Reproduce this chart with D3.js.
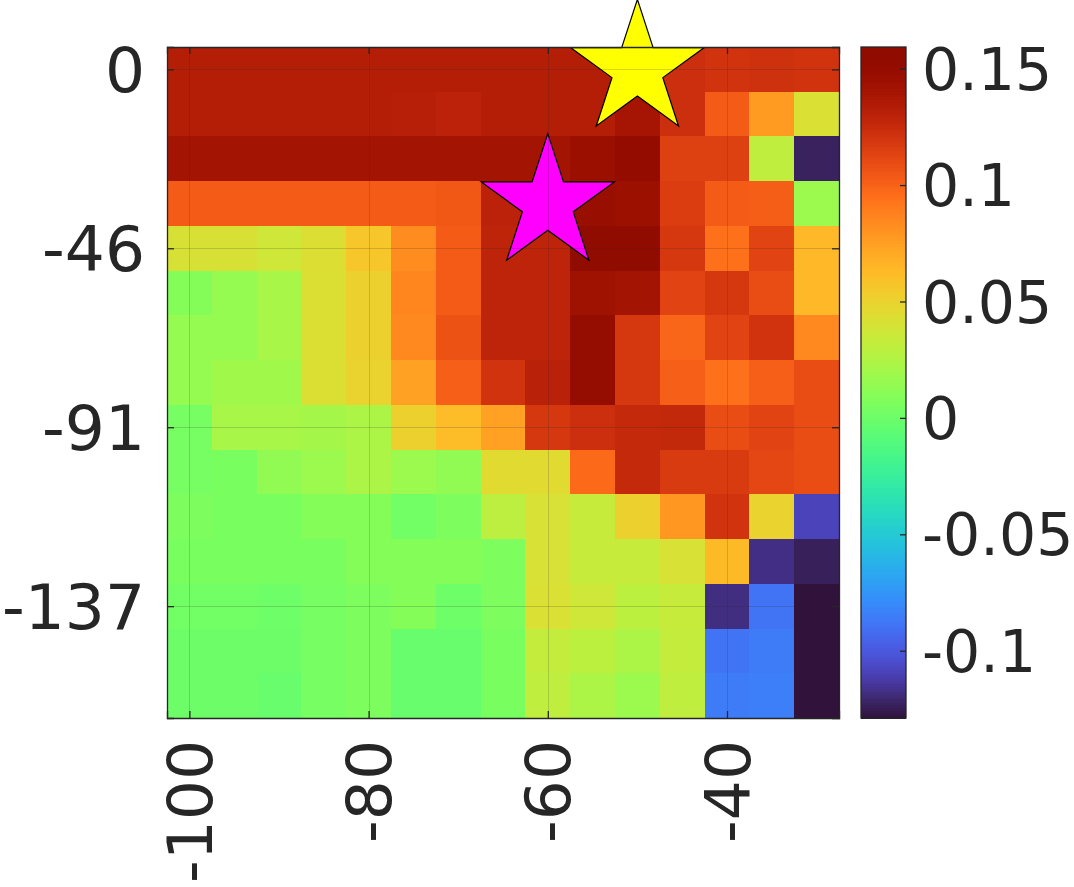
<!DOCTYPE html>
<html>
<head>
<meta charset="utf-8">
<script src="https://cdn.jsdelivr.net/npm/d3@7"></script>
<style>
  html, body { margin: 0; padding: 0; background: #ffffff; }
  svg { display: block; }
  text { font-family: "DejaVu Sans", sans-serif; fill: #262626; }
</style>
</head>
<body>
<svg id="chart" width="1074" height="887"></svg>
<script>
// ---------------- data ----------------
const xCategories = [-100, -95, -90, -85, -80, -75, -70, -65, -60, -55, -50, -45, -40, -35, -30];
const yCategories = [0, -11.43, -22.86, -34.29, -45.71, -57.14, -68.57, -80, -91.43, -102.86, -114.29, -125.71, -137.14, -148.57, -160];

const values = [
  [0.133, 0.133, 0.133, 0.133, 0.133, 0.133, 0.133, 0.133, 0.133, 0.133, 0.133, 0.123, 0.121, 0.122, 0.121],
  [0.133, 0.133, 0.133, 0.133, 0.133, 0.132, 0.130, 0.133, 0.133, 0.133, 0.140, 0.123, 0.103, 0.077, 0.042],
  [0.1406, 0.1406, 0.1406, 0.1406, 0.1406, 0.1406, 0.1406, 0.1406, 0.1406, 0.146, 0.151, 0.1146, 0.1146, 0.031, -0.123],
  [0.103, 0.103, 0.103, 0.103, 0.103, 0.103, 0.1045, 0.130, 0.130, 0.148, 0.145, 0.116, 0.103, 0.102, 0.018],
  [0.041, 0.041, 0.037, 0.043, 0.057, 0.083, 0.103, 0.129, 0.129, 0.159, 0.159, 0.119, 0.0945, 0.113, 0.064],
  [0.0094, 0.0152, 0.0224, 0.0426, 0.0512, 0.0858, 0.103, 0.129, 0.129, 0.1434, 0.1406, 0.1132, 0.119, 0.109, 0.064],
  [0.0152, 0.0152, 0.0224, 0.0426, 0.0512, 0.0844, 0.107, 0.129, 0.129, 0.1507, 0.119, 0.0988, 0.1132, 0.121, 0.0844],
  [0.0152, 0.0195, 0.0195, 0.0426, 0.050, 0.0743, 0.1017, 0.121, 0.131, 0.1507, 0.119, 0.1017, 0.0945, 0.1017, 0.109],
  [0.0037, 0.0224, 0.0224, 0.021, 0.0238, 0.0512, 0.0613, 0.0743, 0.119, 0.123, 0.126, 0.127, 0.109, 0.113, 0.109],
  [0.0037, 0.0051, 0.0138, 0.0181, 0.0238, 0.0181, 0.0138, 0.0455, 0.0455, 0.097, 0.126, 0.117, 0.117, 0.1117, 0.109],
  [0.0066, 0.0051, 0.0051, 0.0094, 0.0094, 0.0022, 0.0066, 0.030, 0.0411, 0.0339, 0.0512, 0.0786, 0.121, 0.0498, -0.1087],
  [0.0051, 0.0051, 0.0051, 0.0051, 0.0094, 0.0094, 0.0094, 0.0066, 0.0411, 0.0339, 0.0339, 0.0411, 0.0628, -0.1174, -0.1237],
  [0.0022, 0.0022, 0.0008, 0.0037, 0.0066, 0.0094, 0.0008, 0.0066, 0.042, 0.0368, 0.0296, 0.0339, -0.1179, -0.0886, -0.1289],
  [0.0002, 0.0002, 0.0002, 0.0037, 0.0066, -0.0015, -0.0015, 0.005, 0.0325, 0.0296, 0.0238, 0.0325, -0.0886, -0.0857, -0.1289],
  [0.0002, 0.0002, -0.0015, 0.0037, 0.0066, -0.0015, -0.0015, 0.005, 0.0311, 0.0238, 0.0181, 0.0311, -0.0857, -0.0842, -0.1289]
];

const xTickValues = [-100, -80, -60, -40];
const xTickLabels = ["-100", "-80", "-60", "-40"];
const yTickValues = [0, -45.71, -91.43, -137.14];
const yTickLabels = ["0", "-46", "-91", "-137"];
const colorLimits = [-0.1289, 0.1593];
const cbarTickValues = [0.15, 0.1, 0.05, 0, -0.05, -0.1];
const cbarTickLabels = ["0.15", "0.1", "0.05", "0", "-0.05", "-0.1"];

const starX = [-50, -60];
const starY = [0, -34.29];
const starColors = ["#ffff00", "#ff00ff"];

// ---------------- layout ----------------
const plot = { left: 167, right: 839, top: 47, bottom: 718 };
const cbar = { left: 861, right: 906 };
const fontSize = 63;
const cbarFontSize = 58.5;
const tickLen = 7;
const axisColor = "#262626";

const svg = d3.select("#chart");

const xStep = xCategories[1] - xCategories[0];
const yStep = yCategories[0] - yCategories[1];

const x = d3.scaleLinear()
  .domain([xCategories[0] - xStep / 2, xCategories[xCategories.length - 1] + xStep / 2])
  .range([plot.left, plot.right]);
const y = d3.scaleLinear()
  .domain([yCategories[0] + yStep / 2, yCategories[yCategories.length - 1] - yStep / 2])
  .range([plot.top, plot.bottom]);

// turbo colormap (d3 polynomial), with the low end matched to the classic turbo purple
const lowEnd = d3.interpolateRgb("#30123b", d3.interpolateTurbo(0.03));
const turbo = t => (t < 0.03 ? lowEnd(t / 0.03) : d3.interpolateTurbo(t));
const color = d3.scaleSequential(turbo).domain(colorLimits).clamp(true);

// ---------------- heatmap cells ----------------
const cells = [];
values.forEach((row, ri) => row.forEach((v, ci) => cells.push({ xc: xCategories[ci], yc: yCategories[ri], v })));

svg.append("g")
  .attr("shape-rendering", "crispEdges")
  .selectAll("rect")
  .data(cells)
  .join("rect")
  .attr("x", d => x(d.xc - xStep / 2))
  .attr("y", d => y(d.yc + yStep / 2))
  .attr("width", d => x(d.xc + xStep / 2) - x(d.xc - xStep / 2) + 0.5)
  .attr("height", d => y(d.yc - yStep / 2) - y(d.yc + yStep / 2) + 0.5)
  .attr("fill", d => color(d.v));

// ---------------- stars ----------------
const starRadius = 70;
const starPath = d3.symbol().type(d3.symbolStar).size(starRadius * starRadius / 0.8908130915292852);
svg.append("g")
  .selectAll("path")
  .data(starX.map((sx, i) => ({ sx, sy: starY[i], c: starColors[i] })))
  .join("path")
  .attr("d", starPath)
  .attr("transform", d => `translate(${x(d.sx)},${y(d.sy)})`)
  .attr("fill", d => d.c)
  .attr("stroke", "#000000")
  .attr("stroke-width", 1.2)
  .attr("stroke-linejoin", "miter");

// ---------------- grid ----------------
const grid = svg.append("g").attr("stroke", axisColor).attr("stroke-opacity", 0.18).attr("stroke-width", 1);
grid.selectAll("line.gx").data(xTickValues).join("line")
  .attr("x1", d => Math.round(x(d)) + 0.5).attr("x2", d => Math.round(x(d)) + 0.5)
  .attr("y1", plot.top).attr("y2", plot.bottom);
grid.selectAll("line.gy").data(yTickValues).join("line")
  .attr("y1", d => Math.round(y(d)) + 0.5).attr("y2", d => Math.round(y(d)) + 0.5)
  .attr("x1", plot.left).attr("x2", plot.right);

// ---------------- axes (box with inward ticks) ----------------
const xAxisBottom = d3.axisBottom(x).tickValues(xTickValues).tickSize(-tickLen).tickFormat("");
const xAxisTop = d3.axisTop(x).tickValues(xTickValues).tickSize(-tickLen).tickFormat("");
const yAxisLeft = d3.axisLeft(y).tickValues(yTickValues).tickSize(-tickLen).tickFormat("");
const yAxisRight = d3.axisRight(y).tickValues(yTickValues).tickSize(-tickLen).tickFormat("");

function styleAxis(g) {
  g.selectAll("path").attr("stroke", axisColor).attr("stroke-width", 1.3);
  g.selectAll("line").attr("stroke", axisColor).attr("stroke-width", 1.3);
}
svg.append("g").attr("transform", `translate(0,${plot.bottom})`).call(xAxisBottom).call(styleAxis);
svg.append("g").attr("transform", `translate(0,${plot.top})`).call(xAxisTop).call(styleAxis);
svg.append("g").attr("transform", `translate(${plot.left},0)`).call(yAxisLeft).call(styleAxis);
svg.append("g").attr("transform", `translate(${plot.right},0)`).call(yAxisRight).call(styleAxis);
svg.selectAll(".domain").attr("fill", "none");

// tick labels
svg.append("g").selectAll("text")
  .data(yTickValues)
  .join("text")
  .attr("x", plot.left - 22)
  .attr("y", d => y(d))
  .attr("dy", "0.36em")
  .attr("text-anchor", "end")
  .attr("font-size", fontSize)
  .text((d, i) => yTickLabels[i]);

svg.append("g").selectAll("text")
  .data(xTickValues)
  .join("text")
  .attr("transform", d => `translate(${x(d)},${plot.bottom + 22}) rotate(-90)`)
  .attr("dy", "0.36em")
  .attr("text-anchor", "end")
  .attr("font-size", fontSize)
  .text((d, i) => xTickLabels[i]);

// ---------------- colorbar ----------------
const cb = d3.scaleLinear().domain(colorLimits).range([plot.bottom, plot.top]);
const nLevels = 256;
const levels = d3.range(nLevels).map(i => colorLimits[0] + (i + 0.5) * (colorLimits[1] - colorLimits[0]) / nLevels);
const levelH = (plot.bottom - plot.top) / nLevels;
svg.append("g")
  .attr("shape-rendering", "crispEdges")
  .selectAll("rect")
  .data(levels)
  .join("rect")
  .attr("x", cbar.left)
  .attr("width", cbar.right - cbar.left)
  .attr("y", d => cb(d) - levelH / 2 - 0.5)
  .attr("height", levelH + 1)
  .attr("fill", d => color(d));

const cbAxis = d3.axisLeft(cb).tickValues(cbarTickValues).tickSize(tickLen - 1).tickFormat("");
svg.append("g").attr("transform", `translate(${cbar.right},0)`).call(cbAxis)
  .call(g => g.select(".domain").remove())
  .call(g => g.selectAll("line").attr("stroke", axisColor).attr("stroke-width", 1.3));

svg.append("rect")
  .attr("x", cbar.left).attr("y", plot.top)
  .attr("width", cbar.right - cbar.left).attr("height", plot.bottom - plot.top)
  .attr("fill", "none").attr("stroke", axisColor).attr("stroke-width", 1.3);

svg.append("g").selectAll("text")
  .data(cbarTickValues)
  .join("text")
  .attr("x", cbar.right + 16)
  .attr("y", d => cb(d))
  .attr("dy", "0.36em")
  .attr("text-anchor", "start")
  .attr("font-size", cbarFontSize)
  .text((d, i) => cbarTickLabels[i]);
</script>
</body>
</html>
